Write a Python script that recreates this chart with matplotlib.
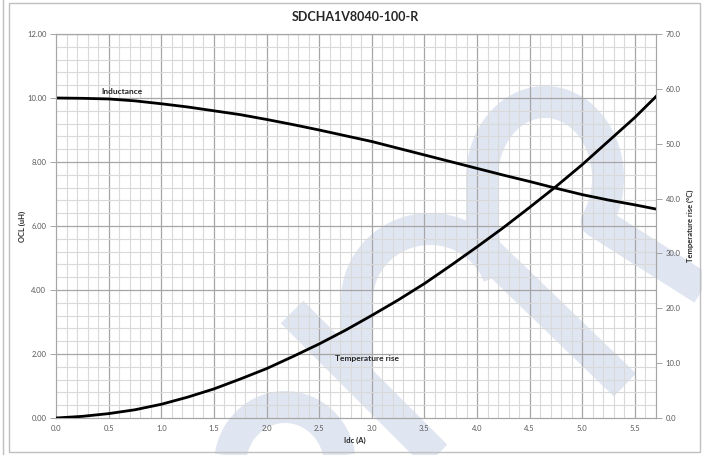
import numpy as np
import matplotlib
matplotlib.use("Agg")
import matplotlib.pyplot as plt
from matplotlib.lines import Line2D
from matplotlib.patches import Rectangle

plt.rcParams['font.family'] = ['Lato', 'DejaVu Sans']

# ---- data ----
idc = [0.0, 0.25, 0.5, 0.75, 1.0, 1.25, 1.5, 1.75, 2.0, 2.25, 2.5, 2.75,
       3.0, 3.25, 3.5, 3.75, 4.0, 4.25, 4.5, 4.75, 5.0, 5.25, 5.5, 5.7]
inductance = [10.0, 9.99, 9.97, 9.91, 9.82, 9.72, 9.60, 9.48, 9.33, 9.17, 9.00, 8.82,
              8.64, 8.43, 8.22, 8.01, 7.80, 7.59, 7.39, 7.18, 6.98, 6.81, 6.66, 6.53]
temp_rise = [0.0, 0.3, 0.8, 1.5, 2.5, 3.8, 5.3, 7.1, 9.0, 11.2, 13.5, 16.0,
             18.7, 21.5, 24.5, 27.8, 31.2, 34.7, 38.4, 42.2, 46.2, 50.5, 54.8, 58.6]
x_ticks = [0.0, 0.5, 1.0, 1.5, 2.0, 2.5, 3.0, 3.5, 4.0, 4.5, 5.0, 5.5]
ocl_ticks = [0, 2, 4, 6, 8, 10, 12]
temp_ticks = [0, 10, 20, 30, 40, 50, 60, 70]

W, H = 702, 455
fig = plt.figure(figsize=(W / 100, H / 100), dpi=100)
fig.patch.set_facecolor('white')

def P(x, y):
    return x / W, 1 - y / H

# ---- watermark (decorative logo strokes) ----
wm = '#e0e6f1'
def stroke(xs, ys, lw=23):
    fx = [x / W for x in xs]
    fy = [1 - y / H for y in ys]
    fig.add_artist(Line2D(fx, fy, transform=fig.transFigure, color=wm, lw=lw,
                          solid_capstyle='butt', solid_joinstyle='round', zorder=-5))

# big arch
t = np.linspace(np.radians(-35), np.radians(180), 60)
ax_ = list(545 + 63 * np.cos(t)); ay_ = list(178 - 76 * np.sin(t))
ax_ = [720] + ax_ + [482, 485, 625]
ay_ = [300] + ay_ + [225, 250, 385]
stroke(ax_, ay_)
# medium arch
t = np.linspace(np.radians(20), np.radians(180), 50)
bx = list(430 + 73 * np.cos(t)); by = list(300 - 71 * np.sin(t))
bx = bx + [357, 357]
by = by + [330, 378]
stroke(bx[::-1], by[::-1])
# lower-left diagonal
stroke([292, 445], [312, 465])
# bottom arch
t = np.linspace(0, np.pi, 50)
stroke(list(285 + 55 * np.cos(t)), list(465 - 58 * np.sin(t)))

# chart border
fig.add_artist(Rectangle(P(9, 452), (700 - 9) / W, (452 - 3) / H, transform=fig.transFigure,
                         fill=False, edgecolor='#bfbfbf', lw=1.0, zorder=-4))
fig.add_artist(Line2D([3 / W, 3 / W], [0, 1], transform=fig.transFigure, color='#bfbfbf', lw=1.0))

# ---- axes ----
ax = fig.add_axes([56 / W, 1 - 418 / H, 600 / W, 384 / H])
ax.set_facecolor('none')
ax.set_xlim(0, 5.7)
ax.set_ylim(0, 12)

for xv in np.arange(0.1, 5.7, 0.1):
    major = abs(xv / 0.5 - round(xv / 0.5)) < 1e-6
    ax.axvline(xv, color='#a6a6a6' if major else '#d9d9d9', lw=0.9 if major else 0.8, zorder=1)
for yv in np.arange(0.4, 12.01, 0.4):
    major = abs(yv / 2 - round(yv / 2)) < 1e-6
    ax.axhline(yv, color='#a6a6a6' if major else '#d9d9d9', lw=0.9 if major else 0.8, zorder=1)

for s in ax.spines.values():
    s.set_color('#a6a6a6'); s.set_linewidth(0.8)

ax.plot(idc, inductance, color='black', lw=2.0, zorder=5)

ax.set_xticks(x_ticks)
ax.set_xticklabels([f'{v:.1f}' for v in x_ticks])
ax.set_yticks(ocl_ticks)
ax.set_yticklabels([f'{v:.2f}' for v in ocl_ticks])
ax.tick_params(axis='x', length=0, labelsize=5.5, labelcolor='#595959', pad=5)
ax.tick_params(axis='y', length=4, width=0.7, color='#a6a6a6', labelsize=5.5, labelcolor='#595959', pad=3)

ax2 = ax.twinx()
ax2.set_ylim(0, 70)
ax2.plot(idc, temp_rise, color='black', lw=2.0, zorder=5)
ax2.set_yticks(temp_ticks)
ax2.set_yticklabels([f'{v:.1f}' for v in temp_ticks])
ax2.tick_params(axis='y', length=4, width=0.7, color='#a6a6a6', labelsize=5.5, labelcolor='#595959', pad=3)
for s in ax2.spines.values():
    s.set_color('#a6a6a6'); s.set_linewidth(0.8)

# ---- texts ----
fig.text(355 / W, 1 - 17 / H, 'SDCHA1V8040-100-R', ha='center', va='center',
         fontsize=9, fontweight='bold', color='#262626')
fig.text(355 / W, 1 - 440 / H, 'Idc (A)', ha='center', va='center',
         fontsize=5.5, fontweight='bold', color='#262626')
fig.text(22 / W, 1 - 226 / H, 'OCL (uH)', ha='center', va='center', rotation=90,
         fontsize=5.5, fontweight='bold', color='#262626')
fig.text(690 / W, 1 - 226 / H, 'Temperature rise (°C)', ha='center', va='center', rotation=90,
         fontsize=5.5, fontweight='bold', color='#262626')
fig.text(122 / W, 1 - 91 / H, 'Inductance', ha='center', va='center',
         fontsize=6, fontweight='bold', color='#262626')
fig.text(367 / W, 1 - 358 / H, 'Temperature rise', ha='center', va='center',
         fontsize=6, fontweight='bold', color='#262626')

fig.savefig('out.png', dpi=100)
